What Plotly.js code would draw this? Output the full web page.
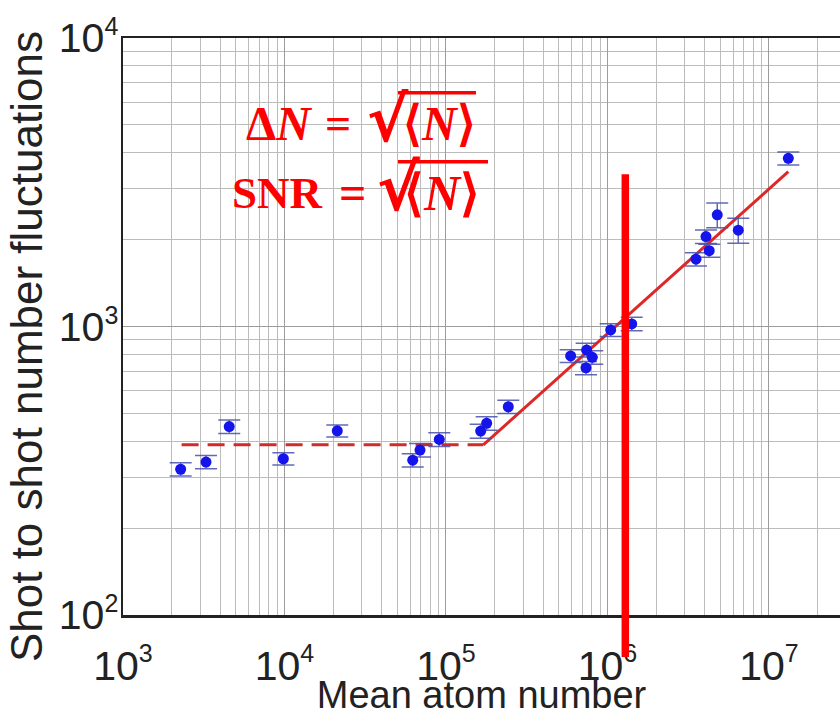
<!DOCTYPE html>
<html>
<head>
<meta charset="utf-8">
<script src="https://cdn.plot.ly/plotly-3.0.1.min.js"></script>
<style>
  html, body { margin: 0; padding: 0; background: #fff; }
  #chart { width: 840px; height: 716px; }
</style>
</head>
<body>
<div id="chart"></div>
<script>
// Mean atom number per run
const meanAtoms = [2275, 3266, 4549, 9840, 21230, 62240, 69060, 90930, 164000, 178600, 243200,
  591600, 743200, 805100, 736300, 1047000, 1413000, 3533000, 4074000, 4268000, 4785000, 6456000, 13180000];
// Shot-to-shot standard deviation of the atom number
const fluctuations = [320, 339, 450, 348, 435, 344, 373, 406, 434, 462, 527,
  791, 829, 782, 719, 973, 1021, 1711, 2049, 1832, 2438, 2158, 3829];
// Uncertainty of each fluctuation estimate
const fluctErr = [17, 18, 24, 17, 21, 18, 20, 22, 24, 25, 28,
  40, 45, 42, 38, 50, 55, 90, 110, 95, 240, 215, 200];

// Technical-noise floor (dashed) and shot-noise scaling (solid)
const floorX = [2306, 170300];
const floorY = [389, 389];
const shotX = [170300, 13180000];
const shotY = [389, 3441];

// Highlighted atom number
const markN = [1290000];

// Decade ticks
const xDecades = [3, 4, 5, 6, 7];
const yDecades = [2, 3, 4];

const supLabel = p => '10<sup><span style="font-size:25px">' + p + '</span></sup>';
const minorVals = (lo, hi) => {
  const v = [];
  for (let e = lo; e < hi; e++) for (let m = 2; m <= 9; m++) v.push(m * Math.pow(10, e));
  return v;
};

const traces = [
  {
    x: floorX, y: floorY, mode: 'lines', type: 'scatter',
    line: { color: 'rgb(205,45,40)', width: 3, dash: '17px,9px' },
    hoverinfo: 'skip'
  },
  {
    x: shotX, y: shotY, mode: 'lines', type: 'scatter',
    line: { color: 'rgb(222,40,40)', width: 3 },
    hoverinfo: 'skip'
  },
  {
    x: meanAtoms, y: fluctuations, mode: 'markers', type: 'scatter',
    marker: { color: 'rgb(20,20,235)', size: 11 },
    error_y: { type: 'data', array: fluctErr, visible: true,
      color: 'rgba(70,80,170,0.85)', thickness: 1.5, width: 11 }
  }
];

const sans = 'Liberation Sans, Arial, sans-serif';
const serif = 'Liberation Serif, Times New Roman, serif';
const tickFont = { family: sans, size: 41, color: '#222' };
const red = '#ff0000';

const gridCommon = {
  type: 'log', ticks: '', tickfont: tickFont,
  showline: true, linecolor: '#222', linewidth: 2.5,
  showgrid: true, gridcolor: '#9c9c9c', gridwidth: 1, zeroline: false
};
const minorGrid = { showgrid: true, gridcolor: '#bcbcbc', gridwidth: 1, ticks: '' };

// helper for one piece of the red formulas
const formulaPiece = (x, y, text, size, anchor, family) => ({
  xref: 'paper', yref: 'paper', x: x, y: y, xanchor: anchor, yanchor: 'middle',
  showarrow: false, font: { family: family || serif, size: size, color: red }, text: text
});

const layout = {
  width: 840, height: 716,
  margin: { l: 123, r: 0, t: 38, b: 101 },
  paper_bgcolor: '#fff', plot_bgcolor: '#fff',
  showlegend: false,
  xaxis: Object.assign({}, gridCommon, {
    range: [3, 7.44], autorange: false, mirror: true,
    tickmode: 'array', tickvals: xDecades.map(p => Math.pow(10, p)), ticktext: xDecades.map(supLabel),
    ticklabelstandoff: 13,
    minor: Object.assign({ tickmode: 'array', tickvals: minorVals(3, 8) }, minorGrid),
    title: { text: 'Mean atom number', font: { family: sans, size: 38, color: '#222' }, standoff: 0 }
  }),
  yaxis: Object.assign({}, gridCommon, {
    range: [2, 4], autorange: false, mirror: false,
    tickmode: 'array', tickvals: yDecades.map(p => Math.pow(10, p)), ticktext: yDecades.map(supLabel),
    ticklabelstandoff: -6,
    minor: Object.assign({ tickmode: 'array', tickvals: minorVals(2, 4) }, minorGrid)
  }),
  shapes: [
    // highlighted atom number
    { type: 'line', xref: 'x', yref: 'paper', x0: markN[0], x1: markN[0], y0: -0.073, y1: 0.764,
      line: { color: red, width: 7.5 }, layer: 'above' },
    // radical bars of the two formulas
    { type: 'line', xref: 'paper', yref: 'paper', x0: 0.3835, x1: 0.4923, y0: 0.905, y1: 0.905,
      line: { color: red, width: 3.5 }, layer: 'above' },
    { type: 'line', xref: 'paper', yref: 'paper', x0: 0.3835, x1: 0.5091, y0: 0.7856, y1: 0.7856,
      line: { color: red, width: 3.5 }, layer: 'above' }
  ],
  annotations: [
    // y axis title
    { xref: 'paper', yref: 'paper', x: -0.1353, y: 0.466, xanchor: 'center', yanchor: 'middle',
      textangle: -90, showarrow: false, font: { family: sans, size: 44, color: '#222' },
      text: 'Shot to shot number fluctuations' },
    // ΔN = √<N>
    formulaPiece(0.1688, 0.8510, '<b>Δ<i>N</i></b>', 48, 'left'),
    formulaPiece(0.2999, 0.8510, '<b>=</b>', 46, 'center'),
    formulaPiece(0.3375, 0.858, '<b>√</b>', 62, 'left', 'DejaVu Sans, sans-serif'),
    formulaPiece(0.3877, 0.8510, '<b>⟨<i>N</i>⟩</b>', 48, 'left'),
    // SNR = √<N>
    formulaPiece(0.1492, 0.7322, '<b>SNR</b>', 45, 'left'),
    formulaPiece(0.3194, 0.7322, '<b>=</b>', 48, 'center'),
    formulaPiece(0.3510, 0.740, '<b>√</b>', 64, 'left', 'DejaVu Sans, sans-serif'),
    formulaPiece(0.3891, 0.7322, '<b>⟨<i>N</i>⟩</b>', 50, 'left')
  ]
};

Plotly.newPlot('chart', traces, layout, { staticPlot: true, displayModeBar: false });
</script>
</body>
</html>
